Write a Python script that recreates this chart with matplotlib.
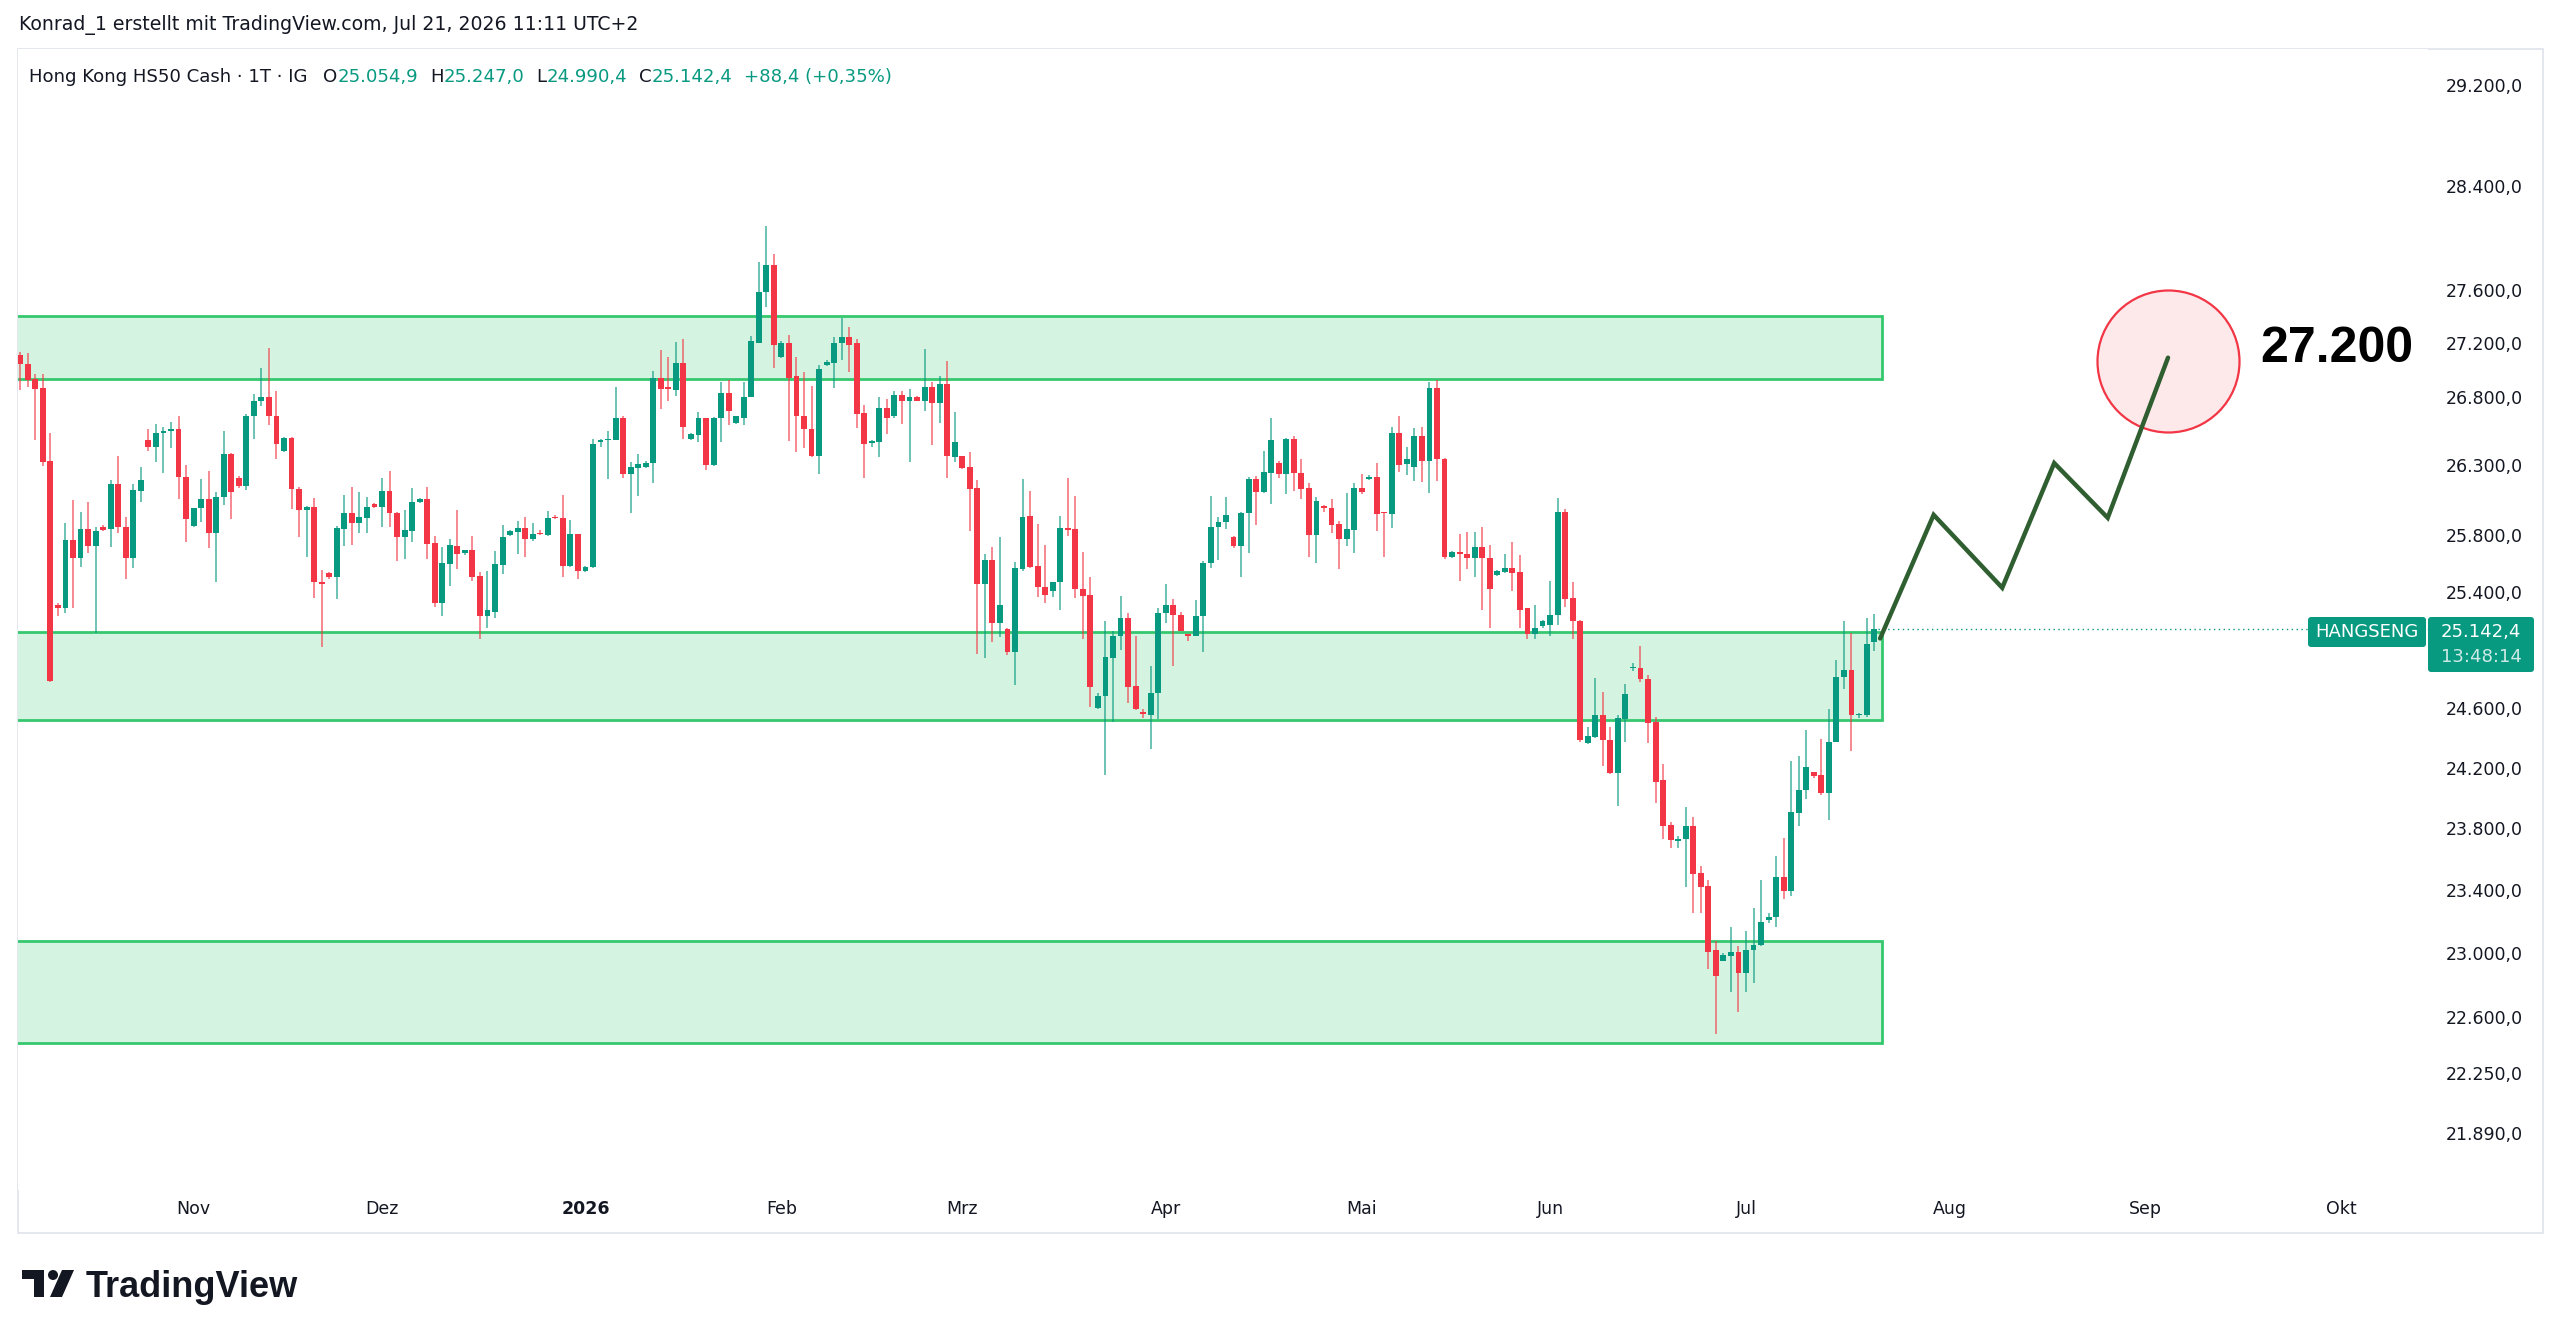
import matplotlib
matplotlib.use('Agg')
import matplotlib.pyplot as plt
from matplotlib.patches import Rectangle, FancyBboxPatch, Polygon, Circle
from matplotlib.transforms import IdentityTransform
from matplotlib.ticker import NullLocator
import numpy as np
import pandas as pd

plt.rcParams['font.family'] = ['DejaVu Sans']

# daily candles (IG, 6 bars per week), 2025-10-06 .. 2026-07-21
opens = [
    27110, 27045, 26930, 26865, 26330, 25310, 25290, 25765, 25640, 25845,
    25725, 25855, 25845, 26165, 25855, 25640, 26115, 26480, 26435, 26535,
    26545, 26560, 26215, 25865, 25995, 26055, 25815, 26070, 26380, 26205,
    26150, 26655, 26765, 26800, 26660, 26405, 26500, 26130, 25980, 26000,
    25465, 25535, 25500, 25845, 25955, 25885, 25920, 26020, 26000, 26115,
    25955, 25785, 25830, 26035, 26055, 25745, 25325, 25595, 25725, 25675,
    25695, 25510, 25230, 25260, 25590, 25800, 25820, 25850, 25770, 25815,
    25800, 25930, 25920, 25580, 25805, 25545, 25575, 26470, 26485, 26485,
    26640, 26235, 26280, 26285, 26315, 26935, 26865, 26850, 27050, 26490,
    26520, 26640, 26300, 26640, 26830, 26610, 26645, 26800, 27200, 27585,
    27785, 27095, 27200, 26950, 26655, 26565, 26365, 27035, 27050, 27195,
    27245, 27195, 26680, 26460, 26470, 26720, 26655, 26815, 26765, 26795,
    26770, 26875, 26755, 26895, 26360, 26365, 26285, 26135, 25455, 25625,
    25180, 25140, 24980, 25560, 25935, 25580, 25435, 25405, 25465, 25850,
    25845, 25420, 25380, 24600, 24685, 24945, 25095, 25220, 24750, 24575,
    24555, 24705, 25250, 25305, 25240, 25105, 25095, 25230, 25605, 25855,
    25895, 25785, 25725, 25955, 26200, 26105, 26245, 26315, 26235, 26490,
    26245, 26135, 25800, 26005, 25995, 25880, 25770, 25835, 26135, 26200,
    26215, 25965, 25950, 26535, 26310, 26285, 26515, 26330, 26865, 26345,
    25645, 25680, 25665, 25640, 25715, 25640, 25520, 25540, 25570, 25540,
    25285, 25110, 25160, 25170, 25235, 25965, 25360, 25195, 24365, 24405,
    24555, 24385, 24165, 24525, 24870, 24875, 24800, 24505, 24120, 23820,
    23715, 23730, 23815, 23510, 23425, 23015, 22950, 22980, 23005, 22875,
    23015, 23050, 23205, 23230, 23485, 23395, 23900, 24055, 24175, 24155,
    24035, 24375, 24815, 24860, 24555, 24555, 25054.9,
]
highs = [
    27135, 27125, 26970, 26970, 26535, 25320, 25885, 26050, 25965, 26035,
    25855, 25870, 26195, 26365, 25930, 26165, 26285, 26565, 26600, 26580,
    26615, 26655, 26300, 25995, 26200, 26255, 26105, 26545, 26390, 26220,
    26675, 26820, 27015, 27160, 26845, 26505, 26505, 26145, 26005, 26065,
    25550, 25540, 25865, 26085, 26145, 26105, 26070, 26025, 26205, 26255,
    25965, 25980, 26135, 26065, 26145, 25795, 25715, 25770, 25980, 25695,
    25795, 25540, 25545, 25690, 25870, 25835, 25900, 25930, 25885, 25835,
    25970, 25945, 26085, 25905, 25810, 25580, 26490, 26490, 26545, 26875,
    26660, 26320, 26380, 26330, 26990, 27150, 27095, 27205, 27225, 26535,
    26690, 26645, 26650, 26905, 26920, 26660, 26905, 27250, 27815, 28085,
    27870, 27215, 27260, 27095, 26980, 26880, 27035, 27075, 27245, 27390,
    27315, 27230, 26740, 26480, 26795, 26780, 26845, 26845, 26860, 26805,
    27155, 26910, 26950, 27065, 26690, 26370, 26395, 26195, 25665, 25715,
    25785, 25145, 25610, 26200, 26115, 25880, 25730, 25470, 25935, 26205,
    26080, 25680, 25505, 24705, 25200, 25130, 25370, 25255, 25090, 24595,
    24890, 25290, 25455, 25350, 25260, 25110, 25340, 25615, 26080, 25930,
    26070, 25790, 25960, 26215, 26220, 26405, 26640, 26330, 26500, 26515,
    26345, 26170, 26070, 26015, 26055, 25900, 26100, 26170, 26235, 26230,
    26315, 25965, 26580, 26655, 26435, 26570, 26580, 26905, 26920, 26350,
    25690, 25805, 25820, 25820, 25855, 25730, 25555, 25665, 25750, 25655,
    25290, 25305, 25205, 25475, 26065, 25985, 25465, 25205, 24475, 24805,
    24710, 24475, 24555, 24765, 24910, 25025, 24825, 24540, 24225, 23840,
    23750, 23940, 23875, 23555, 23465, 23075, 23000, 23160, 23045, 23135,
    23285, 23465, 23250, 23620, 23740, 24245, 24280, 24455, 24175, 24395,
    24595, 24925, 25195, 25115, 24565, 25220, 25247.0,
]
lows = [
    26850, 26870, 26485, 26295, 24780, 25230, 25255, 25290, 25575, 25675,
    25115, 25825, 25715, 25815, 25490, 25570, 26035, 26405, 26320, 26245,
    26425, 26055, 25750, 25860, 25895, 25710, 25465, 26015, 25915, 26135,
    26120, 26490, 26735, 26595, 26345, 26395, 25985, 25785, 25645, 25360,
    25015, 25490, 25350, 25725, 25730, 25815, 25815, 25995, 25855, 25855,
    25615, 25630, 25750, 26030, 25630, 25295, 25230, 25440, 25560, 25660,
    25475, 25070, 25150, 25220, 25525, 25795, 25665, 25645, 25760, 25800,
    25795, 25915, 25505, 25575, 25490, 25540, 25570, 26435, 26200, 26480,
    26205, 25955, 26080, 26280, 26170, 26710, 26765, 26805, 26490, 26485,
    26470, 26265, 26295, 26470, 26595, 26600, 26595, 26795, 27195, 27470,
    27015, 27090, 26475, 26395, 26425, 26360, 26235, 27030, 26865, 27075,
    26980, 26570, 26205, 26435, 26360, 26530, 26645, 26600, 26320, 26765,
    26695, 26445, 26610, 26210, 26320, 26270, 25830, 24970, 24940, 25050,
    25085, 24960, 24760, 25545, 25570, 25365, 25325, 25365, 25275, 25795,
    25360, 25070, 24605, 24595, 24155, 24505, 25000, 24635, 24585, 24535,
    24325, 24525, 25185, 24885, 25125, 25060, 25090, 24985, 25570, 25625,
    25845, 25710, 25505, 25675, 25870, 26100, 26020, 26205, 26095, 26115,
    26055, 25645, 25605, 25965, 25815, 25560, 25725, 25675, 26095, 26195,
    25830, 25645, 25850, 26250, 26230, 26185, 26180, 26100, 26185, 25630,
    25640, 25475, 25560, 25505, 25270, 25150, 25510, 25535, 25405, 25150,
    25070, 25070, 25150, 25090, 25170, 25295, 25070, 24375, 24360, 24400,
    24215, 24160, 23945, 24375, 24850, 24780, 24365, 23965, 23730, 23675,
    23675, 23420, 23250, 23250, 22900, 22490, 22945, 22750, 22630, 22750,
    22810, 23045, 23190, 23165, 23345, 23360, 23815, 23995, 24135, 24020,
    23855, 24370, 24730, 24315, 24535, 24540, 24990.4,
]
closes = [
    27045, 26925, 26860, 26325, 24785, 25290, 25765, 25640, 25845, 25725,
    25830, 25835, 26165, 25855, 25640, 26120, 26195, 26435, 26535, 26545,
    26560, 26215, 25915, 25995, 26055, 25815, 26070, 26380, 26105, 26150,
    26655, 26765, 26800, 26660, 26455, 26500, 26130, 25980, 26000, 25465,
    25455, 25500, 25850, 25955, 25885, 25930, 26000, 26000, 26115, 25955,
    25785, 25835, 26035, 26055, 25735, 25325, 25605, 25730, 25665, 25695,
    25505, 25230, 25270, 25595, 25785, 25830, 25850, 25770, 25805, 25805,
    25920, 25920, 25580, 25805, 25545, 25575, 26455, 26485, 26490, 26640,
    26235, 26285, 26305, 26315, 26940, 26860, 26860, 27050, 26580, 26530,
    26640, 26300, 26645, 26830, 26695, 26655, 26800, 27210, 27585, 27785,
    27185, 27200, 26940, 26655, 26565, 26365, 27005, 27060, 27200, 27245,
    27185, 26675, 26455, 26475, 26720, 26645, 26815, 26765, 26800, 26770,
    26875, 26755, 26895, 26365, 26470, 26280, 26130, 25455, 25625, 25180,
    25305, 24980, 25570, 25930, 25575, 25435, 25380, 25465, 25850, 25835,
    25420, 25370, 24745, 24685, 24950, 25095, 25220, 24745, 24595, 24560,
    24705, 25255, 25305, 25235, 25130, 25095, 25230, 25605, 25855, 25895,
    25945, 25725, 25955, 26200, 26105, 26250, 26485, 26235, 26490, 26245,
    26130, 25800, 26045, 25995, 25870, 25770, 25845, 26135, 26105, 26215,
    25950, 25955, 26535, 26300, 26345, 26515, 26330, 26865, 26345, 25645,
    25680, 25665, 25640, 25715, 25640, 25420, 25545, 25570, 25535, 25275,
    25110, 25150, 25195, 25235, 25965, 25350, 25195, 24385, 24415, 24555,
    24385, 24165, 24535, 24695, 24875, 24795, 24500, 24105, 23815, 23725,
    23730, 23815, 23505, 23420, 23005, 22850, 22985, 23005, 22875, 23015,
    23050, 23195, 23230, 23485, 23395, 23905, 24055, 24205, 24145, 24035,
    24375, 24815, 24860, 24555, 24560, 25035, 25142.4,
]
holidays = ['2026-05-01']

# support / resistance boxes (price ranges)
zone_low = [26930, 24520, 22435]
zone_high = [27405, 25120, 23075]

# hand drawn projection (bar position, price) and target
path_bars = [246.8, 253.9, 263.0, 269.9, 277.0, 285.0]
path_prices = [25076, 25943, 25428, 26315, 25922, 27089]
target_bar = 285.0
target_price = 27066
target_label = 27200

price_ticks = [29200, 28400, 27600, 27200, 26800, 26300, 25800, 25400,
               24600, 24200, 23800, 23400, 23000, 22600, 22250, 21890]
month_names = ['Jan', 'Feb', 'Mrz', 'Apr', 'Mai', 'Jun', 'Jul', 'Aug',
               'Sep', 'Okt', 'Nov', 'Dez']

GREEN = '#089981'
RED = '#F23645'
TXT = '#131722'

W, H, DPI = 2560, 1338, 100


def fx(px):
    return px / W


def fy(py):
    return 1 - py / H


def de(v, dec=1):
    s = f"{v:,.{dec}f}"
    return s.replace(',', '#').replace('.', ',').replace('#', '.')


n = min(len(opens), len(highs), len(lows), len(closes))
o = np.array(opens[:n])
h = np.array(highs[:n])
l = np.array(lows[:n])
c = np.array(closes[:n])
x = np.arange(n)

wk = 'Sun Mon Tue Wed Thu Fri'
dates = pd.bdate_range(end='2026-07-21', periods=n, freq='C', weekmask=wk, holidays=holidays)
axis_dates = pd.bdate_range(start=dates[0], end='2026-10-31', freq='C', weekmask=wk,
                            holidays=holidays)

fig = plt.figure(figsize=(W / DPI, H / DPI), dpi=DPI)
fig.patch.set_facecolor('white')
ax = fig.add_axes([fx(18), fy(1190), fx(2428) - fx(18), fy(49) - fy(1190)])
ax.set_yscale('log')
ax.set_xlim(-0.3, 319.5)
ax.set_ylim(21547, 29489)

# zones
for lo, hi in zip(zone_low, zone_high):
    ax.add_patch(Rectangle((-5, lo), x[-1] + 1 + 5, hi - lo, facecolor='#D4F4E1',
                           edgecolor='#36C86F', lw=2.0, zorder=1))

# candles
up = c >= o
cols = np.where(up, GREEN, RED)
ax.vlines(x, l, h, colors=cols, lw=1.1, alpha=0.75, zorder=3)
body_lo = np.minimum(o, c)
body_h = np.maximum(np.abs(c - o), 8)
ax.bar(x, body_h, bottom=body_lo, width=0.78, color=cols, lw=0, zorder=4)

# last price line
ax.hlines(c[-1], x[-1] + 0.5, 330, colors=GREEN, lw=1.0, linestyles=(0, (1, 2.5)), zorder=2)

# projection
ax.scatter([target_bar], [target_price], s=(2 * 71 * 72 / DPI) ** 2, facecolor='#FDE8EA',
           edgecolor=RED, lw=1.6, zorder=5)
ax.plot(path_bars, path_prices, color='#2F5E30', lw=3.2, solid_joinstyle='miter',
        solid_capstyle='round', zorder=6)
fig.text(fx(2260), fy(362), de(target_label, 0), fontsize=36, fontweight='bold',
         family='Liberation Sans', color='black', va='baseline', ha='left')

# axes styling
for s in ax.spines.values():
    s.set_visible(False)
ax.yaxis.tick_right()
ax.set_yticks(price_ticks)
ax.set_yticklabels([de(v) for v in price_ticks])
ax.yaxis.set_minor_locator(NullLocator())
ax.tick_params(axis='y', length=0, pad=13, labelsize=12.5, labelcolor=TXT)

months = axis_dates.to_period('M')
tick_pos, tick_lab = [], []
for i in range(1, len(axis_dates)):
    if months[i] != months[i - 1] and i < 319:
        tick_pos.append(i)
        d = axis_dates[i]
        tick_lab.append(str(d.year) if d.month == 1 else month_names[d.month - 1])
ax.set_xticks(tick_pos)
ax.set_xticklabels(tick_lab)
ax.tick_params(axis='x', length=0, pad=7, labelsize=12.5, labelcolor=TXT)
for t in ax.get_xticklabels():
    if t.get_text().isdigit():
        t.set_fontweight('bold')

# pane border
fig.add_artist(Rectangle((18, H - 1233), 2543 - 18, 1233 - 49, transform=IdentityTransform(),
                         facecolor='none', edgecolor='#E0E3EB', lw=1.2, zorder=0))

# price label boxes
fig.add_artist(FancyBboxPatch((2308, H - 647), 118, 30, boxstyle='round,pad=0,rounding_size=3',
                              transform=IdentityTransform(), facecolor=GREEN, edgecolor='none'))
fig.add_artist(FancyBboxPatch((2428, H - 672), 106, 55, boxstyle='round,pad=0,rounding_size=3',
                              transform=IdentityTransform(), facecolor=GREEN, edgecolor='none'))
fig.text(fx(2367), fy(632), 'HANGSENG', color='white', fontsize=13, ha='center', va='center')
fig.text(fx(2481), fy(632), de(c[-1]), color='white', fontsize=13, ha='center', va='center')
fig.text(fx(2481), fy(657), '13:48:14', color='white', alpha=0.8, fontsize=13,
         ha='center', va='center')

# header
fig.text(fx(19), fy(25), 'Konrad_1 erstellt mit TradingView.com, Jul 21, 2026 11:11 UTC+2',
         fontsize=13.6, color=TXT, va='center', ha='left')

renderer = fig.canvas.get_renderer()
pieces = [
    ('Hong Kong HS50 Cash · 1T · IG', TXT, 16),
    ('O', TXT, 0), (de(opens[-1]), GREEN, 12),
    ('H', TXT, 0), (de(highs[-1]), GREEN, 12),
    ('L', TXT, 0), (de(lows[-1]), GREEN, 12),
    ('C', TXT, 0), (de(closes[-1]), GREEN, 11),
    ('+88,4 (+0,35%)', GREEN, 0),
]
cur = 29
for txt, col, gap in pieces:
    t = fig.text(fx(cur), fy(77), txt, fontsize=13.1, color=col, va='center', ha='left')
    bb = t.get_window_extent(renderer=renderer)
    cur = bb.x1 + gap

# TradingView logo
logo = dict(transform=IdentityTransform(), facecolor=TXT, edgecolor='none')
fig.add_artist(Rectangle((22, H - 1279), 22, 9, **logo))
fig.add_artist(Rectangle((34, H - 1297), 10, 27, **logo))
fig.add_artist(Circle((53, H - 1275), 5, **logo))
fig.add_artist(Polygon([(62, H - 1270), (74, H - 1270), (62, H - 1297), (50, H - 1297)], **logo))
fig.text(fx(86), fy(1297), 'TradingView', fontsize=26, fontweight='bold', family='Liberation Sans',
         color=TXT, va='baseline', ha='left')

fig.savefig('out.png', dpi=DPI, facecolor='white')
